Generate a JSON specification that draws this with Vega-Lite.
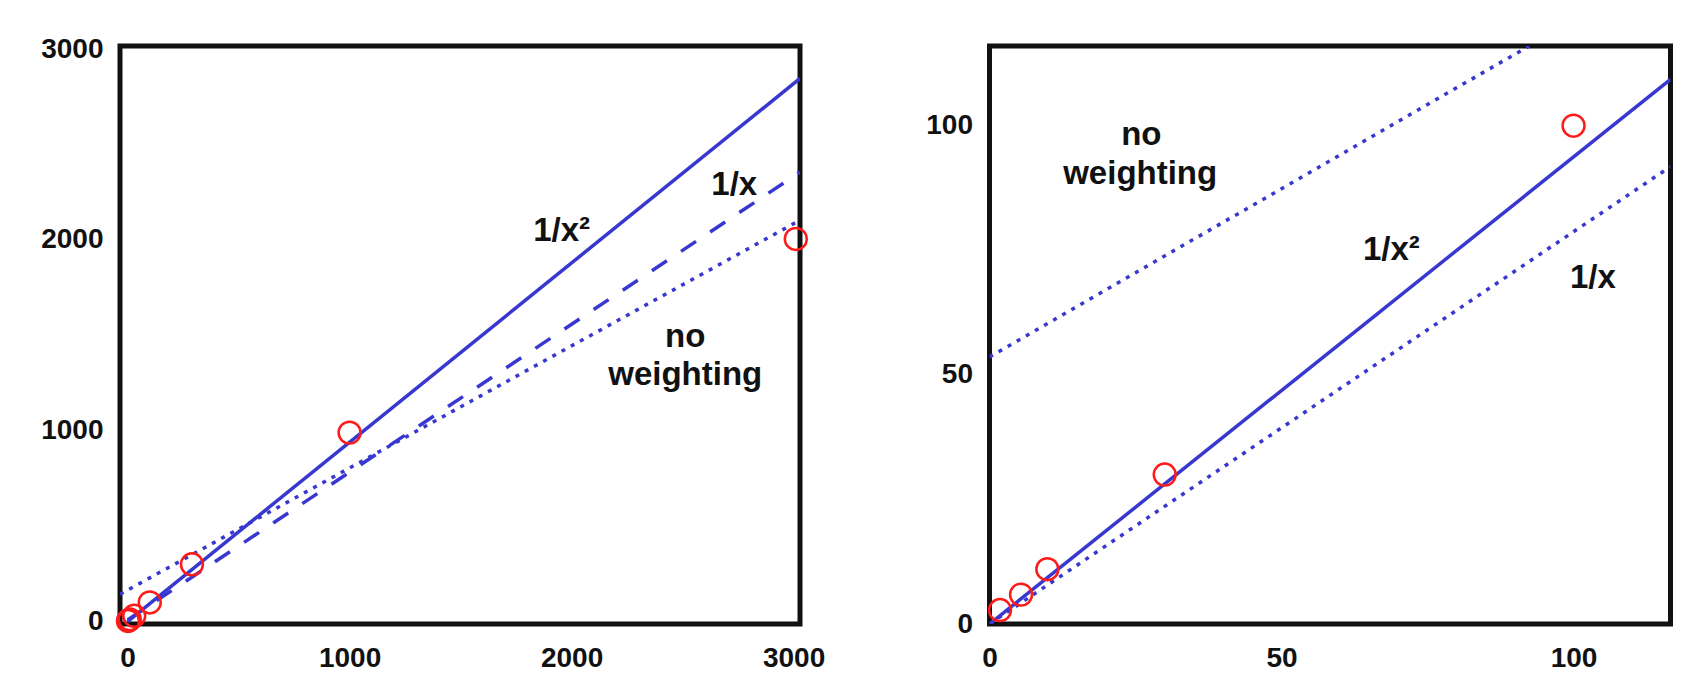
{
  "$schema": "https://vega.github.io/schema/vega-lite/v6.json",
  "background": "white",
  "padding": {"left": 38, "top": 32, "right": 5, "bottom": 5},
  "spacing": 189.5,
  "bounds": "flush",
  "config": {
    "view": {"stroke": "#111", "strokeWidth": 5},
    "axis": {"domain": false, "ticks": false, "grid": false, "labelFont": "Liberation Sans", "labelFontWeight": "bold", "labelFontSize": 28, "labelColor": "#111", "title": null, "labelFlush": false, "labelOverlap": false, "format": "d"},
    "axisX": {"labelPadding": 20},
    "axisY": {"labelPadding": 17},
    "text": {"font": "Liberation Sans", "fontWeight": "bold", "fontSize": 33, "color": "#111", "baseline": "alphabetic", "align": "center"}
  },
  "datasets": {
    "points": [
      {"x": 1.8, "y": 2.8},
      {"x": 5.4, "y": 5.9},
      {"x": 9.9, "y": 11},
      {"x": 30, "y": 30},
      {"x": 100, "y": 100},
      {"x": 290, "y": 300},
      {"x": 1000, "y": 990},
      {"x": 3010, "y": 2005}
    ],
    "lines": [
      {"panel": "left", "series": "1/x²", "x": 0, "y": 0},
      {"panel": "left", "series": "1/x²", "x": 3029, "y": 2846},
      {"panel": "left", "series": "1/x", "x": 0, "y": 8},
      {"panel": "left", "series": "1/x", "x": 3029, "y": 2355},
      {"panel": "left", "series": "no weighting", "x": -34, "y": 143},
      {"panel": "left", "series": "no weighting", "x": 3029, "y": 2103},
      {"panel": "right", "series": "1/x²", "x": 0, "y": 0},
      {"panel": "right", "series": "1/x²", "x": 116.6, "y": 109.3},
      {"panel": "right", "series": "1/x", "x": 0, "y": 0},
      {"panel": "right", "series": "1/x", "x": 116.6, "y": 91.8},
      {"panel": "right", "series": "no weighting", "x": 0, "y": 53.6},
      {"panel": "right", "series": "no weighting", "x": 92.4, "y": 116}
    ],
    "labels": [
      {"panel": "left", "text": "1/x²", "x": 1955, "y": 1993},
      {"panel": "left", "text": "1/x", "x": 2733, "y": 2236},
      {"panel": "left", "text": "no", "x": 2512, "y": 1436},
      {"panel": "left", "text": "weighting", "x": 2512, "y": 1240},
      {"panel": "right", "text": "no", "x": 26, "y": 96.1},
      {"panel": "right", "text": "weighting", "x": 25.8, "y": 88.4},
      {"panel": "right", "text": "1/x²", "x": 68.8, "y": 73.1},
      {"panel": "right", "text": "1/x", "x": 103.3, "y": 67.5}
    ]
  },
  "hconcat": [
    {
      "width": 680,
      "height": 578,
      "encoding": {
        "x": {"field": "x", "type": "quantitative", "scale": {"domain": [-34, 3029], "nice": false, "zero": false}, "axis": {"values": [0, 1000, 2000, 3000]}},
        "y": {"field": "y", "type": "quantitative", "scale": {"domain": [-13, 3016], "nice": false, "zero": false}, "axis": {"values": [0, 1000, 2000, 3000]}}
      },
      "layer": [
        {
          "data": {"name": "lines"},
          "transform": [{"filter": "datum.panel === 'left' && datum.series === 'no weighting'"}],
          "mark": {"type": "line", "color": "#3838d0", "strokeWidth": 3.5, "strokeDash": [4, 6.5], "clip": true}
        },
        {
          "data": {"name": "lines"},
          "transform": [{"filter": "datum.panel === 'left' && datum.series === '1/x'"}],
          "mark": {"type": "line", "color": "#3838d0", "strokeWidth": 3.5, "strokeDash": [18, 17], "clip": true}
        },
        {
          "data": {"name": "lines"},
          "transform": [{"filter": "datum.panel === 'left' && datum.series === '1/x²'"}],
          "mark": {"type": "line", "color": "#3838d0", "strokeWidth": 3.5, "clip": true}
        },
        {
          "data": {"name": "points"},
          "mark": {"type": "point", "shape": "circle", "filled": false, "color": "#ff1a1a", "size": 480, "strokeWidth": 2.5, "opacity": 1}
        },
        {
          "data": {"name": "labels"},
          "transform": [{"filter": "datum.panel === 'left'"}],
          "mark": {"type": "text"},
          "encoding": {"text": {"field": "text", "type": "nominal"}}
        }
      ]
    },
    {
      "width": 681,
      "height": 578,
      "encoding": {
        "x": {"field": "x", "type": "quantitative", "scale": {"domain": [0, 116.6], "nice": false, "zero": false}, "axis": {"values": [0, 50, 100]}},
        "y": {"field": "y", "type": "quantitative", "scale": {"domain": [0, 116], "nice": false, "zero": false}, "axis": {"values": [0, 50, 100]}}
      },
      "layer": [
        {
          "data": {"name": "lines"},
          "transform": [{"filter": "datum.panel === 'right' && datum.series === 'no weighting'"}],
          "mark": {"type": "line", "color": "#3838d0", "strokeWidth": 3.5, "strokeDash": [4, 6.5], "clip": true}
        },
        {
          "data": {"name": "lines"},
          "transform": [{"filter": "datum.panel === 'right' && datum.series === '1/x'"}],
          "mark": {"type": "line", "color": "#3838d0", "strokeWidth": 3.5, "strokeDash": [4, 6.5], "clip": true}
        },
        {
          "data": {"name": "lines"},
          "transform": [{"filter": "datum.panel === 'right' && datum.series === '1/x²'"}],
          "mark": {"type": "line", "color": "#3838d0", "strokeWidth": 3.5, "clip": true}
        },
        {
          "data": {"name": "points"},
          "transform": [{"filter": "datum.x <= 116"}],
          "mark": {"type": "point", "shape": "circle", "filled": false, "color": "#ff1a1a", "size": 480, "strokeWidth": 2.5, "opacity": 1}
        },
        {
          "data": {"name": "labels"},
          "transform": [{"filter": "datum.panel === 'right'"}],
          "mark": {"type": "text"},
          "encoding": {"text": {"field": "text", "type": "nominal"}}
        }
      ]
    }
  ]
}
